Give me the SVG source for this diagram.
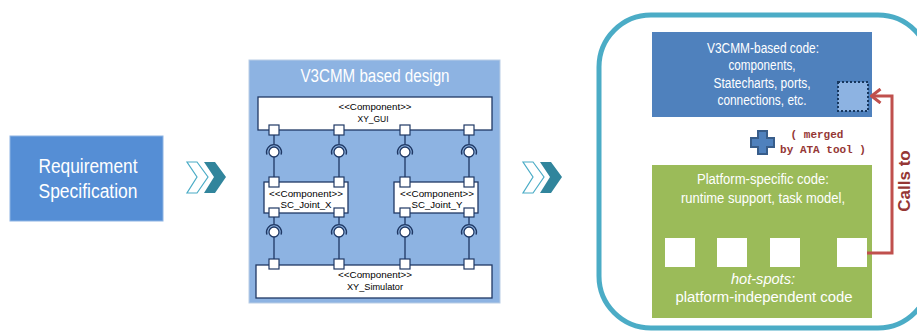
<svg xmlns="http://www.w3.org/2000/svg" width="917" height="331" viewBox="0 0 917 331">
<defs>
<style>
.t{font-family:"Liberation Sans",Arial,sans-serif;fill:#fff;text-anchor:middle}
.c{font-family:"Liberation Sans",Arial,sans-serif;fill:#000;font-size:9.5px;text-anchor:middle}
.comp{fill:#fff;stroke:#1F3864;stroke-width:1.3}
.port{fill:#fff;stroke:#1F3864;stroke-width:1.2}
.wire{fill:none;stroke:#1F3864;stroke-width:1.3}
.ball{fill:#fff;stroke:#1F3864;stroke-width:1.3}
.cho{fill:#fff;stroke:#4BACC6;stroke-width:1.2}
.chf{fill:#31859C}
.hs{fill:#fff}
.red{font-family:"Liberation Mono","Courier New",monospace;font-weight:bold;font-size:11px;fill:#953735;text-anchor:middle}
</style>
<marker id="ah" viewBox="0 0 12 16" refX="10.5" refY="8" markerWidth="12" markerHeight="16" markerUnits="userSpaceOnUse" orient="auto">
<path d="M1 1 L10 8 L1 15" fill="none" stroke="#C0504D" stroke-width="3"/>
</marker>
</defs>

<g id="requirement">
<rect x="10" y="136" width="153" height="85" fill="#558ED5" stroke="#8EB4E3" stroke-width="1"/>
<text class="t" x="88" y="173" font-size="20" textLength="99" lengthAdjust="spacingAndGlyphs">Requirement</text>
<text class="t" x="88" y="198" font-size="20" textLength="99" lengthAdjust="spacingAndGlyphs">Specification</text>
</g>

<g id="chevron1">
<polygon class="cho" points="187,162 197,162 208,177 197,193 187,193 197,177"/>
<polygon class="chf" points="204,162 215,162 226,177 215,193 204,193 214,177"/>
</g>

<g id="design">
<rect x="249" y="60" width="251" height="243" fill="#8DB3E2" stroke="#B9CDE5" stroke-width="1"/>
<text class="t" x="375" y="82" font-size="18" textLength="149" lengthAdjust="spacingAndGlyphs">V3CMM based design</text>
</g>

<g id="xy_gui">
<rect class="comp" x="258" y="97" width="234" height="33"/>
<text class="c" x="375" y="110" textLength="73" lengthAdjust="spacingAndGlyphs">&lt;&lt;Component&gt;&gt;</text>
<text class="c" x="373" y="122" textLength="31" lengthAdjust="spacingAndGlyphs">XY_GUI</text>
<rect class="port" x="269" y="125" width="10" height="10"/><rect class="port" x="334" y="125" width="10" height="10"/><rect class="port" x="400" y="125" width="10" height="10"/><rect class="port" x="464" y="125" width="10" height="10"/>
</g>

<g id="sc_joint_x">
<rect class="comp" x="264" y="182" width="84" height="31"/>
<text class="c" x="306" y="197" textLength="74" lengthAdjust="spacingAndGlyphs">&lt;&lt;Component&gt;&gt;</text>
<text class="c" x="306" y="208" textLength="51" lengthAdjust="spacingAndGlyphs">SC_Joint_X</text>
<rect class="port" x="269" y="177" width="10" height="10"/><rect class="port" x="334" y="177" width="10" height="10"/>
<rect class="port" x="269" y="208" width="10" height="9"/><rect class="port" x="334" y="208" width="10" height="9"/>
</g>

<g id="sc_joint_y">
<rect class="comp" x="394" y="182" width="84" height="31"/>
<text class="c" x="437" y="197" textLength="74" lengthAdjust="spacingAndGlyphs">&lt;&lt;Component&gt;&gt;</text>
<text class="c" x="437" y="208" textLength="51" lengthAdjust="spacingAndGlyphs">SC_Joint_Y</text>
<rect class="port" x="400" y="177" width="10" height="10"/><rect class="port" x="464" y="177" width="10" height="10"/>
<rect class="port" x="400" y="208" width="10" height="9"/><rect class="port" x="464" y="208" width="10" height="9"/>
</g>

<g id="xy_simulator">
<rect class="comp" x="256" y="265" width="236" height="33"/>
<text class="c" x="375" y="278" textLength="74" lengthAdjust="spacingAndGlyphs">&lt;&lt;Component&gt;&gt;</text>
<text class="c" x="375" y="290" textLength="56" lengthAdjust="spacingAndGlyphs">XY_Simulator</text>
<rect class="port" x="269" y="259" width="10" height="10"/><rect class="port" x="334" y="259" width="10" height="10"/><rect class="port" x="400" y="259" width="10" height="10"/><rect class="port" x="464" y="259" width="10" height="10"/>
</g>

<g id="chevron2">
<polygon class="cho" points="523,162 533,162 544,177 533,193 523,193 533,177"/>
<polygon class="chf" points="540,162 551,162 562,177 551,193 540,193 550,177"/>
</g>

<g id="frame">
<rect x="599" y="15" width="331" height="313" rx="52" ry="52" fill="none" stroke="#4BACC6" stroke-width="5"/>
</g>

<g id="v3cmm_code">
<rect x="652" y="32" width="220" height="85" fill="#4F81BD"/>
<text class="t" x="763" y="53" font-size="14" textLength="112" lengthAdjust="spacingAndGlyphs">V3CMM-based code:</text>
<text class="t" x="762" y="70" font-size="14" textLength="67" lengthAdjust="spacingAndGlyphs">components,</text>
<text class="t" x="762" y="88" font-size="14" textLength="97" lengthAdjust="spacingAndGlyphs">Statecharts, ports,</text>
<text class="t" x="762" y="105" font-size="14" textLength="89" lengthAdjust="spacingAndGlyphs">connections, etc.</text>
<rect x="838" y="82" width="30" height="29" fill="#8DB3E2" stroke="#17375E" stroke-width="2" stroke-dasharray="2,2"/>
</g>

<g id="merge">
<path d="M758 131 H767 V138 H774 V147 H767 V154 H758 V147 H751 V138 H758 Z" fill="#4F81BD" stroke="#385D8A" stroke-width="2"/>
<text class="red" x="817" y="138">( merged</text>
<text class="red" x="823" y="153">by ATA tool )</text>
</g>

<g id="platform_code">
<rect x="652" y="165" width="220" height="153" fill="#9BBB59"/>
<text class="t" x="763" y="184" font-size="14" textLength="132" lengthAdjust="spacingAndGlyphs">Platform-specific code:</text>
<text class="t" x="763" y="203" font-size="14" textLength="164" lengthAdjust="spacingAndGlyphs">runtime support, task model,</text>
<rect class="hs" x="665" y="238" width="30" height="29"/>
<rect class="hs" x="717" y="238" width="30" height="29"/>
<rect class="hs" x="770" y="238" width="30" height="29"/>
<rect class="hs" x="837" y="238" width="30" height="29"/>
<text class="t" x="763" y="284" font-size="14" font-style="italic" textLength="64" lengthAdjust="spacingAndGlyphs">hot-spots:</text>
<text class="t" x="764" y="302" font-size="14" textLength="177" lengthAdjust="spacingAndGlyphs">platform-independent code</text>
</g>

<g id="calls_label">
<text transform="translate(910,181) rotate(-90)" font-family="Liberation Sans,Arial,sans-serif" font-weight="bold" font-size="17" fill="#953735" text-anchor="middle">Calls to</text>
</g>

<g id="connectors">
<g id="wires">
<path class="wire" d="M274 135 V144 M339 135 V144 M405 135 V144 M469 135 V144"/>
<path class="wire" d="M274 157 V177 M339 157 V177 M405 157 V177 M469 157 V177"/>
<path class="wire" d="M274 217 V224 M339 217 V224 M405 217 V224 M469 217 V224"/>
<path class="wire" d="M274 237 V259 M339 237 V259 M405 237 V259 M469 237 V259"/>
</g>
<g id="sockets">
<path class="wire" d="M266.9 154.6 A7.5 7.5 0 1 1 281.1 154.6 M331.9 154.6 A7.5 7.5 0 1 1 346.1 154.6 M397.9 154.6 A7.5 7.5 0 1 1 412.1 154.6 M461.9 154.6 A7.5 7.5 0 1 1 476.1 154.6"/>
<path class="wire" d="M266.9 234.6 A7.5 7.5 0 1 1 281.1 234.6 M331.9 234.6 A7.5 7.5 0 1 1 346.1 234.6 M397.9 234.6 A7.5 7.5 0 1 1 412.1 234.6 M461.9 234.6 A7.5 7.5 0 1 1 476.1 234.6"/>
<circle class="ball" cx="274" cy="152" r="5"/><circle class="ball" cx="339" cy="152" r="5"/><circle class="ball" cx="405" cy="152" r="5"/><circle class="ball" cx="469" cy="152" r="5"/>
<circle class="ball" cx="274" cy="232" r="5"/><circle class="ball" cx="339" cy="232" r="5"/><circle class="ball" cx="405" cy="232" r="5"/><circle class="ball" cx="469" cy="232" r="5"/>
</g>
<path id="calls" d="M867 253 H892 V96 H871" fill="none" stroke="#C0504D" stroke-width="3" marker-end="url(#ah)"/>
</g>
</svg>
